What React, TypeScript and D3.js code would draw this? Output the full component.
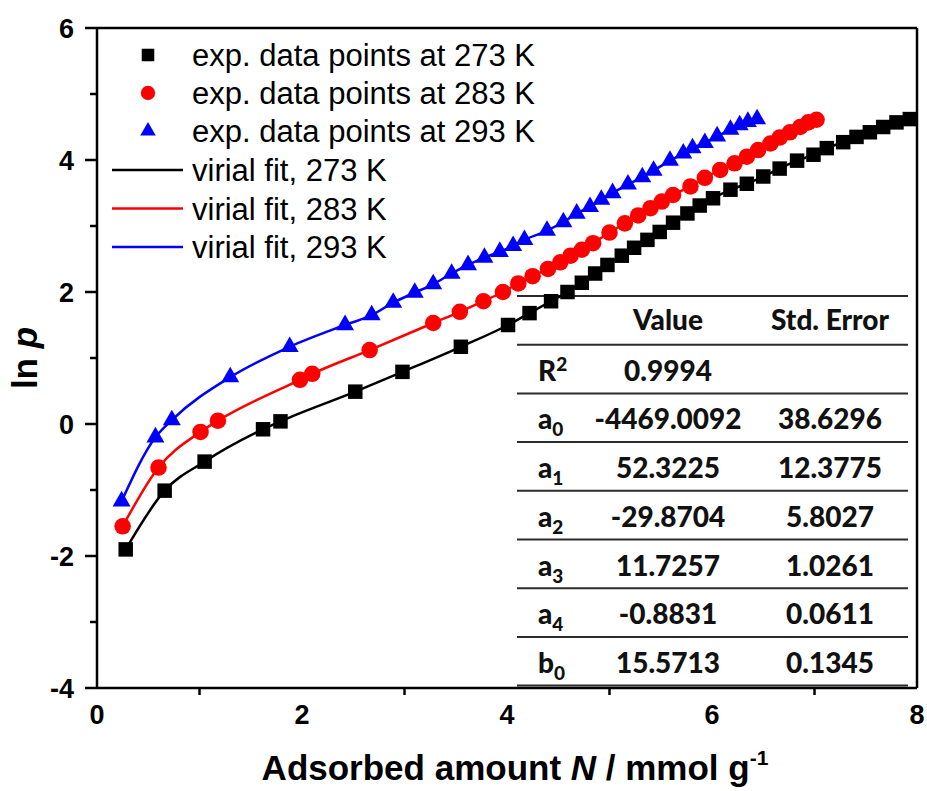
import React from 'react';
import * as d3 from 'd3';

const n273 = [0.28, 0.66, 1.05, 1.62, 1.79, 2.52, 2.98, 3.55, 4.01, 4.22, 4.43, 4.59, 4.73, 4.86, 4.98, 5.12, 5.24, 5.37, 5.49, 5.62, 5.76, 5.88, 6.01, 6.18, 6.34, 6.5, 6.66, 6.83, 6.99, 7.12, 7.28, 7.41, 7.54, 7.67, 7.8, 7.93];
const lnp273 = [-1.9, -1.01, -0.57, -0.08, 0.04, 0.49, 0.79, 1.17, 1.5, 1.68, 1.86, 2.0, 2.14, 2.28, 2.41, 2.55, 2.67, 2.79, 2.91, 3.05, 3.19, 3.31, 3.42, 3.55, 3.64, 3.75, 3.87, 3.99, 4.08, 4.18, 4.27, 4.35, 4.42, 4.5, 4.57, 4.62];

const n283 = [0.25, 0.6, 1.01, 1.18, 1.98, 2.1, 2.66, 3.28, 3.54, 3.77, 3.96, 4.11, 4.25, 4.4, 4.52, 4.62, 4.73, 4.84, 5.0, 5.15, 5.28, 5.4, 5.51, 5.62, 5.79, 5.93, 6.08, 6.22, 6.34, 6.45, 6.57, 6.66, 6.76, 6.86, 6.94, 7.02];
const lnp283 = [-1.55, -0.66, -0.12, 0.05, 0.67, 0.76, 1.12, 1.53, 1.7, 1.86, 2.0, 2.13, 2.24, 2.35, 2.45, 2.55, 2.64, 2.74, 2.9, 3.04, 3.16, 3.27, 3.37, 3.47, 3.6, 3.73, 3.85, 3.95, 4.05, 4.15, 4.25, 4.34, 4.42, 4.5, 4.57, 4.61];

const n293 = [0.24, 0.57, 0.73, 1.3, 1.88, 2.42, 2.68, 2.89, 3.1, 3.28, 3.46, 3.62, 3.78, 3.93, 4.06, 4.17, 4.39, 4.55, 4.68, 4.81, 4.92, 5.03, 5.18, 5.32, 5.43, 5.59, 5.72, 5.81, 5.93, 6.05, 6.18, 6.27, 6.35, 6.44];
const lnp293 = [-1.17, -0.2, 0.06, 0.71, 1.17, 1.5, 1.65, 1.84, 1.99, 2.12, 2.28, 2.41, 2.52, 2.61, 2.7, 2.79, 2.93, 3.06, 3.19, 3.29, 3.4, 3.5, 3.63, 3.74, 3.84, 3.99, 4.1, 4.18, 4.26, 4.36, 4.46, 4.53, 4.58, 4.62];

const pointLabels = ['exp. data points at 273 K', 'exp. data points at 283 K', 'exp. data points at 293 K'];
const fitLabels = ['virial fit, 273 K', 'virial fit, 283 K', 'virial fit, 293 K'];

// fit parameters table
const paramBase = ['R', 'a', 'a', 'a', 'a', 'a', 'b'];
const paramIndex = ['2', '0', '1', '2', '3', '4', '0'];
const paramValue = ['0.9994', '-4469.0092', '52.3225', '-29.8704', '11.7257', '-0.8831', '15.5713'];
const paramError = ['', '38.6296', '12.3775', '5.8027', '1.0261', '0.0611', '0.1345'];

const W = 927;
const H = 791;
const axisFont = '"Liberation Sans", Arial, sans-serif';
const tableFont = 'Lato, "Open Sans", sans-serif';

const series = [
  {xs: n273, ys: lnp273, color: '#000000', symbol: d3.symbolSquare, size: 210},
  {xs: n283, ys: lnp283, color: '#ff0000', symbol: d3.symbolCircle, size: 215},
  {xs: n293, ys: lnp293, color: '#0000ff', symbol: d3.symbolTriangle, size: 140},
];

export default function App() {
  const x = d3.scaleLinear().domain([0, 8]).range([97, 917]);
  const y = d3.scaleLinear().domain([-4, 6]).range([688, 28]);

  const line = d3.line<[number, number]>()
    .x(d => x(d[0]))
    .y(d => y(d[1]))
    .curve(d3.curveMonotoneX);

  const yTicks = y.ticks(10);
  const xTicks = x.ticks(8);

  // table layout
  const tLeft = 517, tRight = 908, tTop = 296, rowH = 48.7;
  const colLabel = 538, colValue = 668, colError = 830;
  const rowLines = d3.range(paramValue.length + 2).map(i => tTop + i * rowH);

  return (
    <svg width={W} height={H} style={{position: 'absolute', left: 0, top: 0, background: '#fff'}}>
      <rect width={W} height={H} fill="#fff" />

      {/* table */}
      <g>
        {rowLines.map((ly, i) => (
          <line key={i} x1={tLeft} x2={tRight} y1={ly} y2={ly} stroke="#2b2b2b" strokeWidth={2} />
        ))}
        <g fontFamily={tableFont} fontWeight={900} fontSize={28} fill="#111">
          <text x={colValue} y={tTop + 34} textAnchor="middle">Value</text>
          <text x={colError} y={tTop + 34} textAnchor="middle">Std. Error</text>
          {paramValue.map((v, i) => {
            const by = tTop + rowH * (i + 1) + 36;
            const sup = paramBase[i] === 'R';
            return (
              <g key={i}>
                <text x={colLabel} y={by}>
                  {paramBase[i]}
                  <tspan fontSize={19} dy={sup ? -10 : 7}>{paramIndex[i]}</tspan>
                </text>
                <text x={colValue} y={by} textAnchor="middle">{v}</text>
                <text x={colError} y={by} textAnchor="middle">{paramError[i]}</text>
              </g>
            );
          })}
        </g>
      </g>

      {/* frame */}
      <g stroke="#000" strokeWidth={2.5} fill="none">
        <line x1={x(0)} x2={x(8)} y1={y(6)} y2={y(6)} />
        <line x1={x(8)} x2={x(8)} y1={y(6)} y2={y(-4)} />
        <line x1={x(0)} x2={x(8)} y1={y(-4)} y2={y(-4)} />
        <line x1={x(0)} x2={x(0)} y1={y(6)} y2={y(-4)} />
      </g>

      {/* y axis */}
      <g fontFamily={axisFont} fontWeight="bold" fontSize={27}>
        {yTicks.map(t => {
          const major = t % 2 === 0;
          return (
            <g key={t}>
              <line x1={x(0) - (major ? 12 : 7)} x2={x(0)} y1={y(t)} y2={y(t)} stroke="#000" strokeWidth={2.5} />
              {major && (
                <text x={74} y={y(t)} dy="0.36em" textAnchor="end">{t}</text>
              )}
            </g>
          );
        })}
      </g>

      {/* x axis */}
      <g fontFamily={axisFont} fontWeight="bold" fontSize={27}>
        {xTicks.map(t => {
          const major = t % 2 === 0;
          return (
            <g key={t}>
              {!major && (
                <line x1={x(t)} x2={x(t)} y1={y(-4)} y2={y(-4) + 7} stroke="#000" strokeWidth={2.5} />
              )}
              {major && (
                <text x={x(t)} y={724} textAnchor="middle">{t}</text>
              )}
            </g>
          );
        })}
      </g>

      {/* axis titles */}
      <text x={(x(0) + x(8)) / 2 + 8} y={780} textAnchor="middle" fontFamily={axisFont} fontWeight="bold" fontSize={35}>
        Adsorbed amount <tspan fontStyle="italic">N</tspan> / mmol g<tspan fontSize={21} dy={-15}>-1</tspan>
      </text>
      <text transform={`translate(37, ${(y(6) + y(-4)) / 2}) rotate(-90)`} textAnchor="middle" fontFamily={axisFont} fontWeight="bold" fontSize={35}>
        ln <tspan fontStyle="italic">p</tspan>
      </text>

      {/* fit lines */}
      {series.map((s, i) => (
        <path key={i} d={line(s.xs.map((v, j) => [v, s.ys[j]] as [number, number])) || ''} fill="none" stroke={s.color} strokeWidth={2.5} />
      ))}

      {/* data points */}
      {series.map((s, i) => (
        <g key={i} fill={s.color}>
          {s.xs.map((v, j) => (
            <path key={j} transform={`translate(${x(v)},${y(s.ys[j])})`} d={d3.symbol(s.symbol, s.size)() || ''} />
          ))}
        </g>
      ))}

      {/* legend */}
      <g fontFamily={axisFont} fontSize={31} fill="#000">
        {pointLabels.map((lab, i) => {
          const ly = 55 + i * 38;
          const s = series[i];
          return (
            <g key={lab}>
              <path transform={`translate(148,${ly})`} d={d3.symbol(s.symbol, s.size * 0.75)() || ''} fill={s.color} />
              <text x={192} y={ly} dy="0.36em">{lab}</text>
            </g>
          );
        })}
        {fitLabels.map((lab, i) => {
          const ly = 170 + i * 38.5;
          return (
            <g key={lab}>
              <line x1={112} x2={183} y1={ly} y2={ly} stroke={series[i].color} strokeWidth={2.5} />
              <text x={192} y={ly} dy="0.36em">{lab}</text>
            </g>
          );
        })}
      </g>
    </svg>
  );
}
